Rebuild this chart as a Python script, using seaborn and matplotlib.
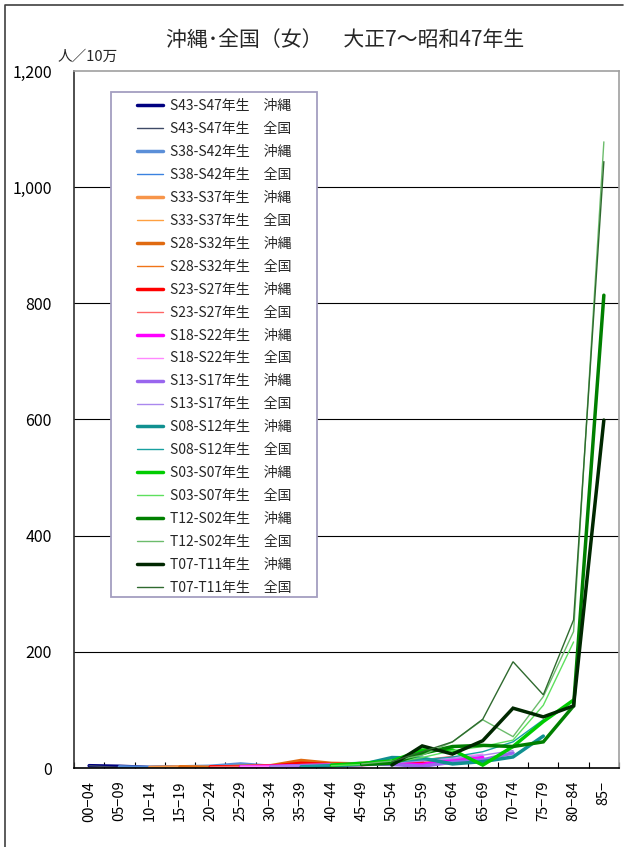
import numpy as np
import pandas as pd
import matplotlib
matplotlib.use("Agg")
import matplotlib.pyplot as plt
import seaborn as sns
from matplotlib.lines import Line2D
from matplotlib.patches import Rectangle

sns.set_theme(style="white")
plt.rcParams["font.family"] = ["Noto Sans CJK JP", "DejaVu Sans"]

# age groups (x axis)
ages = ["00−04", "05−09", "10−14", "15−19", "20−24", "25−29", "30−34", "35−39", "40−44",
        "45−49", "50−54", "55−59", "60−64", "65−69", "70−74", "75−79", "80−84", "85−"]

# cohorts, first age group index of each cohort
cohorts = ["S43-S47", "S38-S42", "S33-S37", "S28-S32", "S23-S27", "S18-S22",
           "S13-S17", "S08-S12", "S03-S07", "T12-S02", "T07-T11"]
start_idx = [0, 1, 2, 3, 4, 5, 6, 7, 8, 9, 10]

# rates per 100,000 (沖縄 / 全国)
okinawa = [
    [4, 3, 1, 2, 2, 3, 3, 2, 5],
    [2, 1, 2, 3, 7, 3, 4, 6, 8],
    [1, 2, 1, 2, 3, 5, 4, 8, 10],
    [2, 1, 3, 4, 13, 8, 7, 9, 12],
    [2, 2, 3, 8, 6, 6, 9, 8, 10],
    [2, 3, 4, 5, 6, 7, 6, 14, 18],
    [2, 4, 5, 7, 6, 3, 10, 14, 26],
    [2, 4, 6, 18, 17, 7, 11, 19, 55],
    [5, 8, 12, 31, 31, 5, 37, 80, 117],
    [6, 8, 25, 37, 39, 37, 45, 107, 814],
    [5, 38, 24, 47, 103, 88, 107, 599],
]
zenkoku = [
    [4, 1, 1, 1, 2, 3, 4, 5, 6],
    [1, 1, 1, 2, 3, 4, 5, 6, 8],
    [1, 1, 2, 3, 4, 5, 7, 9, 12],
    [1, 2, 3, 4, 6, 7, 9, 12, 16],
    [2, 3, 4, 6, 7, 9, 11, 14, 20],
    [3, 3, 5, 6, 8, 10, 13, 18, 24],
    [3, 4, 6, 7, 9, 12, 16, 22, 30],
    [3, 5, 7, 10, 14, 19, 28, 45, 83],
    [4, 6, 10, 18, 30, 37, 48, 108, 217],
    [7, 12, 22, 45, 83, 54, 123, 235, 1078],
    [11, 28, 45, 84, 183, 126, 255, 1044],
]

col_okinawa = ["#000080", "#5b8fd8", "#f7954a", "#e06a10", "#ff0000", "#ff00ff",
               "#9966ee", "#109090", "#00cc00", "#008000", "#002800"]
col_zenkoku = ["#3f4a66", "#3a82e0", "#ffa040", "#f07418", "#ff6666", "#ff88ff",
               "#aa88ee", "#18a0a0", "#5ee05e", "#6cbc6c", "#2f6a2f"]

W, H = 628, 847
fig = plt.figure(figsize=(W / 100, H / 100), dpi=100)
ax = fig.add_axes([74 / W, (H - 768) / H, (619 - 74) / W, (768 - 71) / H])

handles, labels = [], []
for i, c in enumerate(cohorts):
    for vals, col, lw, area in [(okinawa[i], col_okinawa[i], 2.5, "沖縄"),
                                (zenkoku[i], col_zenkoku[i], 1.0, "全国")]:
        x = np.arange(start_idx[i], start_idx[i] + len(vals))
        df = pd.DataFrame({"age": x, "rate": vals})
        sns.lineplot(data=df, x="age", y="rate", color=col, linewidth=lw, ax=ax,
                     legend=False, solid_joinstyle="miter")
        handles.append(Line2D([], [], color=col, lw=lw))
        labels.append(f"{c}年生\u3000{area}")

ax.set_xlim(-0.5, 17.5)
ax.set_ylim(0, 1200)
ax.set_xticks(range(len(ages)))
ax.set_xticklabels(ages, rotation=90, fontsize=10.5)
ax.set_xticks(np.arange(-0.5, 18, 1), minor=True)
ax.tick_params(axis="x", which="major", length=0, pad=9, colors="black")
ax.tick_params(axis="x", which="minor", direction="in", length=4, width=0.8,
               color="black", bottom=True)
ax.set_yticks(range(0, 1201, 200))
ax.set_yticklabels([f"{v:,}" for v in range(0, 1201, 200)], fontsize=11.5)
ax.tick_params(axis="y", length=0, pad=16, colors="black")
ax.set_xlabel("")
ax.set_ylabel("")

for v in range(200, 1001, 200):
    ax.axhline(v, color="black", lw=0.8, zorder=0)

for s in ["top", "right"]:
    ax.spines[s].set_color("#a0a0a0")
    ax.spines[s].set_linewidth(1.2)
ax.spines["left"].set_color("#303030")
ax.spines["left"].set_linewidth(1.2)
ax.spines["bottom"].set_color("black")
ax.spines["bottom"].set_linewidth(1.2)

# legend box
fig.patches.append(Rectangle((111 / W, (H - 597) / H), (317 - 111) / W, (597 - 92) / H,
                             transform=fig.transFigure, fill=True, facecolor="white",
                             edgecolor="#a49ec0", lw=1.3, zorder=5))
leg = fig.legend(handles, labels, loc="upper left", bbox_to_anchor=(130 / W, (H - 92) / H),
                 frameon=False, fontsize=10, handlelength=1.9, handletextpad=0.45,
                 labelspacing=0.645, borderpad=0)
leg.set_zorder(6)

fig.text(345 / W, (H - 40) / H, "沖縄･全国（女）　大正7～昭和47年生", ha="center",
         va="center", fontsize=15)
fig.text(58 / W, (H - 57) / H, "人／10万", ha="left", va="center", fontsize=10.5)

# outer chart border
fig.lines.append(Line2D([4.5 / W, 4.5 / W, 623 / W], [0, (H - 5) / H, (H - 5) / H],
                        transform=fig.transFigure, color="#404040", lw=1.2))

fig.savefig("out.png", dpi=100)
